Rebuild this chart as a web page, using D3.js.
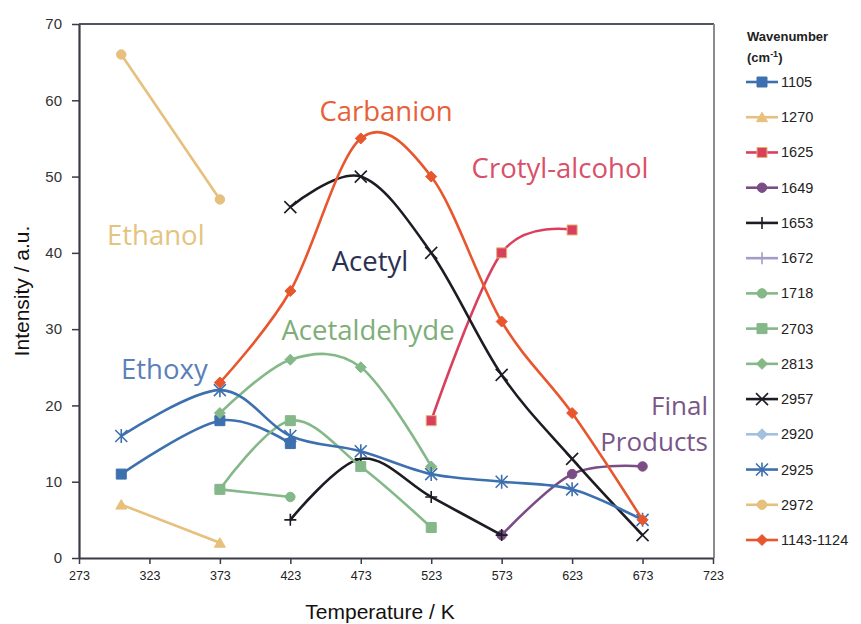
<!DOCTYPE html>
<html>
<head>
<meta charset="utf-8">
<script src="https://cdn.jsdelivr.net/npm/d3@7"></script>
<style>
  body { margin: 0; background: #fff; }
  svg { display: block; }
</style>
</head>
<body>
<div id="chart"></div>
<script>
// Temperatures (K) and intensities per wavenumber series
const temps = [303, 373, 423, 473, 523, 573, 623, 673];
const xTicks = [273, 323, 373, 423, 473, 523, 573, 623, 673, 723];
const yTicks = [0, 10, 20, 30, 40, 50, 60, 70];

const s1105 = [[303, 11], [373, 18], [423, 15]];
const s1270 = [[303, 7], [373, 2]];
const s1625 = [[523, 18], [573, 40], [623, 43]];
const s1649 = [[573, 3], [623, 11], [673, 12]];
const s1653 = [[423, 5], [473, 13], [523, 8], [573, 3]];
const s1672 = [];
const s1718 = [[373, 9], [423, 8]];
const s2703 = [[373, 9], [423, 18], [473, 12], [523, 4]];
const s2813 = [[373, 19], [423, 26], [473, 25], [523, 12]];
const s2957 = [[423, 46], [473, 50], [523, 40], [573, 24], [623, 13], [673, 3]];
const s2920 = [];
const s2925 = [[303, 16], [373, 22], [423, 16], [473, 14], [523, 11], [573, 10], [623, 9], [673, 5]];
const s2972 = [[303, 66], [373, 47]];
const s1143 = [[373, 23], [423, 35], [473, 55], [523, 50], [573, 31], [623, 19], [673, 5]];

const series = [
  { name: "1105", data: s1105, color: "#3d70ae", marker: "square", smooth: true },
  { name: "1270", data: s1270, color: "#e6c07c", marker: "triangle", smooth: false },
  { name: "1625", data: s1625, color: "#d8405e", marker: "square", smooth: true, stroke: "#e6b070" },
  { name: "1649", data: s1649, color: "#7a4d85", marker: "circle", smooth: true },
  { name: "1653", data: s1653, color: "#1c1c24", marker: "plus", smooth: true },
  { name: "1672", data: s1672, color: "#a49cc8", marker: "plus", smooth: true },
  { name: "1718", data: s1718, color: "#85b888", marker: "circle", smooth: false },
  { name: "2703", data: s2703, color: "#85b888", marker: "square", smooth: true },
  { name: "2813", data: s2813, color: "#85b888", marker: "diamond", smooth: true },
  { name: "2957", data: s2957, color: "#1c1c24", marker: "x", smooth: true },
  { name: "2920", data: s2920, color: "#a3c0de", marker: "diamond", smooth: true },
  { name: "2925", data: s2925, color: "#3d70ae", marker: "star", smooth: true },
  { name: "2972", data: s2972, color: "#e6c07c", marker: "circle", smooth: false },
  { name: "1143-1124", data: s1143, color: "#e8562e", marker: "diamond", smooth: true }
];

// region labels
const annotations = [
  { text: "Ethanol", x: 107, y: 245, size: 27.5, color: "#e3c47f", anchor: "start" },
  { text: "Ethoxy", x: 121, y: 379, size: 27.5, color: "#5b80b9", anchor: "start" },
  { text: "Carbanion", x: 386, y: 121, size: 27.5, color: "#e8603a", anchor: "middle" },
  { text: "Crotyl-alcohol", x: 560, y: 178, size: 27.5, color: "#d9506a", anchor: "middle" },
  { text: "Acetyl", x: 370, y: 271, size: 27.5, color: "#2b3050", anchor: "middle" },
  { text: "Acetaldehyde", x: 368, y: 340, size: 27.5, color: "#7eae78", anchor: "middle" },
  { text: "Final", x: 708, y: 415, size: 26, color: "#7a5688", anchor: "end" },
  { text: "Products", x: 708, y: 451, size: 26, color: "#7a5688", anchor: "end" }
];

const W = 861, H = 624;
const plot = { left: 79, right: 713, top: 24, bottom: 558 };

const svg = d3.select("#chart").append("svg")
  .attr("width", W).attr("height", H);

const x = d3.scaleLinear().domain([273, 723]).range([plot.left, plot.right]);
const y = d3.scaleLinear().domain([0, 70]).range([plot.bottom, plot.top]);

// frame: top and right borders
svg.append("line").attr("x1", plot.left).attr("x2", plot.right + 1)
  .attr("y1", plot.top).attr("y2", plot.top)
  .attr("stroke", "#55555f").attr("stroke-width", 2);
svg.append("line").attr("x1", plot.right + 1).attr("x2", plot.right + 1)
  .attr("y1", plot.top).attr("y2", plot.bottom)
  .attr("stroke", "#8a8a90").attr("stroke-width", 2);

// axes
const xAxis = svg.append("g")
  .attr("transform", `translate(0,${plot.bottom})`)
  .call(d3.axisBottom(x).tickValues(xTicks).tickSize(6).tickSizeOuter(0));
const yAxis = svg.append("g")
  .attr("transform", `translate(${plot.left},0)`)
  .call(d3.axisLeft(y).tickValues(yTicks).tickSize(7).tickSizeOuter(0).tickPadding(10));

[xAxis, yAxis].forEach(g => {
  g.select(".domain").attr("stroke", "#3a3a48").attr("stroke-width", 2.2);
  g.selectAll(".tick line").attr("stroke", "#3a3a48").attr("stroke-width", 1.5);
  g.selectAll("text").attr("fill", "#222").attr("font-family", "Liberation Sans, Arial, sans-serif");
});
xAxis.selectAll("text").attr("font-size", 12.5).attr("dy", "1.05em");
yAxis.selectAll("text").attr("font-size", 15).attr("fill", "#333");

// axis titles
svg.append("text")
  .attr("x", 380).attr("y", 619)
  .attr("text-anchor", "middle")
  .attr("font-family", "Liberation Sans, Arial, sans-serif")
  .attr("font-size", 21).attr("fill", "#111")
  .text("Temperature / K");
svg.append("text")
  .attr("transform", `translate(29,${(plot.top + plot.bottom) / 2}) rotate(-90)`)
  .attr("text-anchor", "middle")
  .attr("font-family", "Liberation Sans, Arial, sans-serif")
  .attr("font-size", 21).attr("fill", "#111")
  .text("Intensity / a.u.");

// marker shapes
function markerPath(type) {
  switch (type) {
    case "square": return "M-5,-5H5V5H-5Z";
    case "triangle": return "M0,-5L5.5,4.5H-5.5Z";
    case "circle": return d3.symbol(d3.symbolCircle, 70)();
    case "diamond": return "M0,-5.5L5.5,0L0,5.5L-5.5,0Z";
    case "plus": return "M-6,0H6M0,-6V6";
    case "x": return "M-6,-6L6,6M-6,6L6,-6";
    case "star": return "M-6,-6L6,6M-6,6L6,-6M0,-7V7";
  }
}
const openMarkers = ["plus", "x", "star"];

function drawMarker(g, s, px, py) {
  const open = openMarkers.includes(s.marker);
  g.append("path")
    .attr("transform", `translate(${px},${py})`)
    .attr("d", markerPath(s.marker))
    .attr("fill", open ? "none" : s.color)
    .attr("stroke", open ? s.color : (s.stroke || s.color))
    .attr("stroke-width", open ? 1.6 : 1);
}

const marks = svg.append("g");
series.forEach(s => {
  if (!s.data.length) return;
  const line = d3.line()
    .x(d => x(d[0])).y(d => y(d[1]))
    .curve(s.smooth ? d3.curveCardinal.tension(0) : d3.curveLinear);
  const g = marks.append("g");
  g.append("path")
    .attr("d", line(s.data))
    .attr("fill", "none")
    .attr("stroke", s.color)
    .attr("stroke-width", 2.6);
  s.data.forEach(d => drawMarker(g, s, x(d[0]), y(d[1])));
});

// annotations
svg.append("g").selectAll("text")
  .data(annotations)
  .enter()
  .append("text")
  .attr("x", d => d.x).attr("y", d => d.y)
  .attr("text-anchor", d => d.anchor)
  .attr("fill", d => d.color)
  .attr("font-family", "Open Sans, Noto Sans, sans-serif")
  .attr("font-size", d => d.size)
  .text(d => d.text);

// legend
const legend = svg.append("g").attr("font-family", "Liberation Sans, Arial, sans-serif");
legend.append("text").attr("x", 747).attr("y", 41)
  .attr("font-size", 13).attr("font-weight", "bold").attr("fill", "#222")
  .text("Wavenumber");
const unit = legend.append("text").attr("x", 747).attr("y", 62)
  .attr("font-size", 13).attr("font-weight", "bold").attr("fill", "#222");
unit.append("tspan").text("(cm");
unit.append("tspan").attr("font-size", 9).attr("dy", -5).text("-1");
unit.append("tspan").attr("dy", 5).text(")");

const legendY = d3.scalePoint().domain(series.map(s => s.name)).range([82, 540]);
series.forEach(s => {
  const ly = legendY(s.name);
  const g = legend.append("g");
  g.append("line").attr("x1", 746).attr("x2", 778).attr("y1", ly).attr("y2", ly)
    .attr("stroke", s.color).attr("stroke-width", 2.6);
  drawMarker(g, s, 762, ly);
  g.append("text").attr("x", 781).attr("y", ly + 5)
    .attr("font-size", 14.5).attr("fill", "#222").text(s.name);
});
</script>
</body>
</html>
